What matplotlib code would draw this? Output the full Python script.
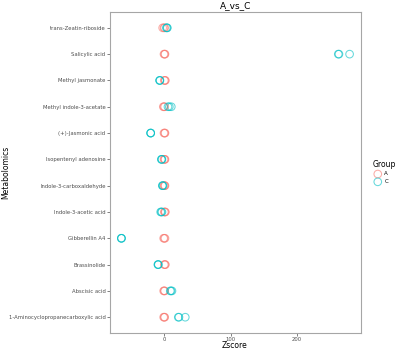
import matplotlib
matplotlib.use("Agg")
import matplotlib.pyplot as plt

# Metabolites, bottom to top on the y axis
metabolites = [
    "1-Aminocyclopropanecarboxylic acid",
    "Abscisic acid",
    "Brassinolide",
    "Gibberellin A4",
    "Indole-3-acetic acid",
    "Indole-3-carboxaldehyde",
    "Isopentenyl adenosine",
    "(+)-Jasmonic acid",
    "Methyl indole-3-acetate",
    "Methyl jasmonate",
    "Salicylic acid",
    "trans-Zeatin-riboside",
]

# Z-scores per replicate, group A
zscore_a = [
    [-0.5, 0.5, 1.0],
    [-0.5, 0.5, 1.0],
    [0.5, 1.5, 2.0],
    [-0.5, 0.5, 1.5],
    [0.5, 1.5, 2.0],
    [0.0, 1.0, 1.5],
    [0.0, 1.0, 1.5],
    [0.0, 1.0, 1.5],
    [-1.0, 0.0, 1.0],
    [0.5, 1.5, 2.0],
    [0.0, 1.0, 1.5],
    [-2.0, 0.0, 1.0],
]

# Z-scores per replicate, group C
zscore_c = [
    [21.5, 22.5, 32.0],
    [9.5, 10.5, 12.0],
    [-9.0, -9.0, -8.5],
    [-64.0, -64.0, -64.0],
    [-5.0, -4.0, -3.0],
    [-2.5, -2.0, -1.5],
    [-4.0, -3.5, -3.0],
    [-20.0, -20.0, -20.0],
    [6.0, 8.0, 11.0],
    [-6.5, -6.5, -6.0],
    [262.0, 263.0, 279.0],
    [3.5, 4.5, 5.0],
]

groups = ["A", "C"]
colors = {"A": "#F8766D", "C": "#00BFC4"}

fig = plt.figure(figsize=(4, 3.5), dpi=100)
ax = fig.add_axes([0.275, 0.0486, 0.6275, 0.917])

for grp, data in (("A", zscore_a), ("C", zscore_c)):
    xs, ys = [], []
    for i, vals in enumerate(data):
        for v in vals:
            xs.append(v)
            ys.append(i + 1)
    ax.scatter(xs, ys, s=30, facecolors="none", edgecolors=colors[grp],
               linewidths=0.75, alpha=0.6, label=grp, zorder=3)

all_vals = [v for row in zscore_a + zscore_c for v in row]
lo, hi = min(all_vals), max(all_vals)
pad = (hi - lo) * 0.05
ax.set_xlim(lo - pad, hi + pad)
ax.set_ylim(0.4, len(metabolites) + 0.6)

ax.set_yticks(range(1, len(metabolites) + 1))
ax.set_yticklabels(metabolites)
ax.set_xticks([0, 100, 200])

for side in ax.spines.values():
    side.set_color("#a6a6a6")
    side.set_linewidth(0.8)
ax.tick_params(axis="both", labelsize=3.8, labelcolor="#4d4d4d",
               color="#4d4d4d", length=2, width=0.5, pad=1.2)

ax.set_title("A_vs_C", fontsize=6.5, pad=3)
fig.text(0.5875, 0.0, "Zscore", fontsize=5.5, ha="center", va="bottom")
fig.text(0.004, 0.508, "Metabolomics", fontsize=5.5, rotation=90,
         ha="left", va="center")

leg = fig.legend(title="Group", loc="upper left", bbox_to_anchor=(0.925, 0.55),
                 frameon=False, fontsize=4, title_fontsize=5.5,
                 handletextpad=0.2, labelspacing=0.5, borderaxespad=0)
leg._legend_box.align = "left"

fig.savefig("out.png", dpi=100)
